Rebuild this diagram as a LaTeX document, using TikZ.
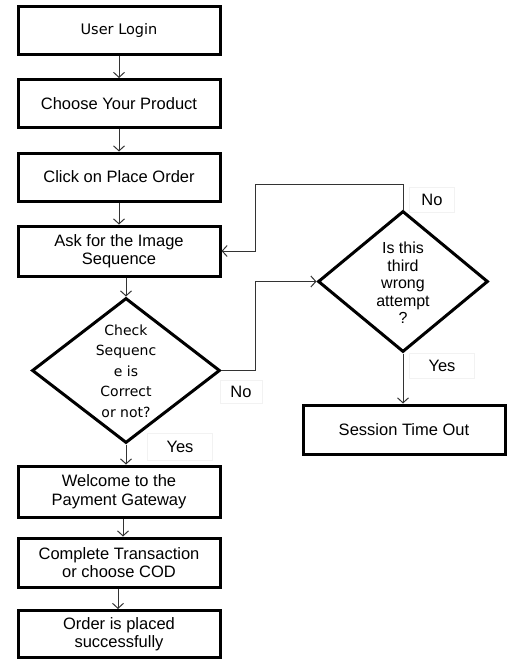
\documentclass[tikz,border=0pt]{standalone}
\usepackage{fontspec}
\setmainfont{Liberation Sans}
\newfontfamily\dvs{DejaVu Sans}
\usetikzlibrary{shapes.geometric,arrows.meta}
\begin{document}
\begin{tikzpicture}[x=1pt,y=-1pt,
 box/.style={draw, line width=3pt, minimum width=202pt, minimum height=48pt, inner sep=0pt, align=center, font=\fontsize{16.5}{18.5}\selectfont},
 decision/.style={draw, diamond, line width=3pt, inner sep=0pt},
 dtext/.style={align=center, inner sep=0pt},
 conn/.style={line width=1pt, draw=black!80},
 arr/.style={conn, -{Straight Barb[length=5pt,width=11pt]}},
 lbl/.style={draw=black!5, line width=0.6pt, font=\fontsize{16.5}{18.5}\selectfont, inner sep=0pt}
]
\useasboundingbox (0,0) rectangle (509,661);
% left column
\node[box, font=\dvs\fontsize{14.5}{16}\selectfont] (login) at (119,31) {User Login};
\node[box] (choose) at (119,103.5) {Choose Your Product};
\node[box] (click) at (119,177) {Click on Place Order};
\node[box, minimum height=50pt] (ask) at (119,251) {Ask for the Image\\Sequence};
\node[decision, minimum width=188pt, minimum height=145pt] (d1) at (126,370.5) {};
\node[dtext, font=\dvs\fontsize{14}{20.5}\selectfont] (d1t) at (126,371) {Check\\Sequenc\\e is\\Correct\\or not?};
\node[box, minimum height=51pt] (welcome) at (119,491.5) {Welcome to the\\Payment Gateway};
\node[box, minimum height=49pt] (complete) at (119,562.5) {Complete Transaction\\or choose COD};
\node[box, minimum height=47pt] (order) at (119,634) {Order is placed\\successfully};
% right column
\node[decision, minimum width=170pt, minimum height=141pt] (d2) at (403,281.5) {};
\node[dtext, font=\fontsize{16}{17.5}\selectfont] (d2t) at (403,283) {Is this\\third\\wrong\\attempt\\?};
\node[box, minimum width=202pt, minimum height=49pt] (session) at (404,429.5) {Session Time Out};
% labels
\node[lbl, minimum width=42pt, minimum height=23pt] (no1) at (241,392) {No};
\node[lbl, minimum width=65pt, minimum height=27pt] (yes1) at (180,447) {Yes};
\node[lbl, minimum width=45pt, minimum height=25pt] (no2) at (432,200) {No};
\node[lbl, minimum width=65pt, minimum height=25pt] (yes2) at (442,366) {Yes};
% connectors
\coordinate (k1) at (255,370.5);
\coordinate (k2) at (255,184);
\draw[arr] (login) -- (choose);
\draw[arr] (choose) -- (click);
\draw[arr] (click) -- (ask);
\draw[arr] (ask.south -| d1.north) -- (d1.north);
\draw[arr] (d1.south) -- (welcome.north -| d1.south);
\draw[arr] (welcome.south -| 123,0) -- (complete.north -| 123,0);
\draw[arr] (complete.south -| 118,0) -- (order.north -| 118,0);
\draw[arr] (d1.east) -- (k1) |- (d2.west);
\draw[arr] (d2.north) |- (k2) |- (ask.east);
\draw[arr] (d2.south) -- (session.north -| d2.south);
\end{tikzpicture}
\end{document}
